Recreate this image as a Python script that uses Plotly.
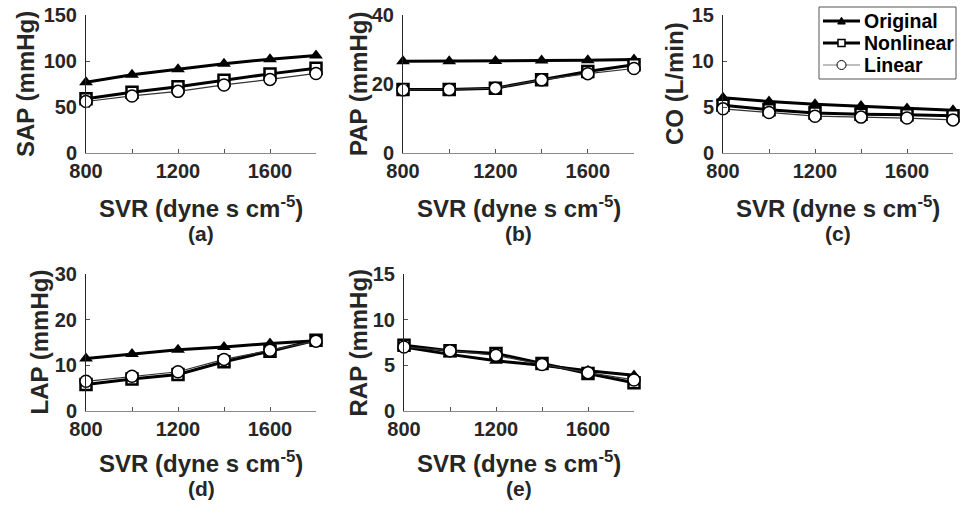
import plotly.graph_objects as go

# SVR values (x axis, dyne s cm^-5)
svr = [800, 1000, 1200, 1400, 1600, 1800]

# panel values: original / nonlinear / linear model
sap_orig = [77, 85, 91, 97, 102, 106]
sap_nonlin = [59, 66, 72, 79, 86, 92]
sap_lin = [56, 62, 67, 74, 80, 86.5]

pap_orig = [26.6, 26.6, 26.7, 26.8, 26.9, 27.1]
pap_nonlin = [18.4, 18.4, 18.8, 21.2, 23.6, 25.6]
pap_lin = [18.3, 18.4, 18.8, 21.2, 23.0, 24.5]

co_orig = [6.0, 5.6, 5.3, 5.1, 4.85, 4.65]
co_nonlin = [5.2, 4.7, 4.35, 4.2, 4.15, 4.05]
co_lin = [4.8, 4.4, 4.0, 3.9, 3.8, 3.6]

lap_orig = [11.5, 12.5, 13.4, 14.0, 14.8, 15.4]
lap_nonlin = [5.8, 7.0, 8.0, 10.8, 13.1, 15.5]
lap_lin = [6.5, 7.6, 8.6, 11.3, 13.3, 15.3]

rap_orig = [7.0, 6.2, 5.5, 5.0, 4.4, 3.9]
rap_nonlin = [7.2, 6.6, 6.3, 5.2, 4.1, 3.1]
rap_lin = [7.0, 6.6, 6.1, 5.1, 4.2, 3.4]

series_names = ["Original", "Nonlinear", "Linear"]

panels = [
    ("SAP (mmHg)", "(a)", 150, 50, sap_orig, sap_nonlin, sap_lin),
    ("PAP (mmHg)", "(b)", 40, 20, pap_orig, pap_nonlin, pap_lin),
    ("CO (L/min)", "(c)", 15, 5, co_orig, co_nonlin, co_lin),
    ("LAP (mmHg)", "(d)", 30, 10, lap_orig, lap_nonlin, lap_lin),
    ("RAP (mmHg)", "(e)", 15, 5, rap_orig, rap_nonlin, rap_lin),
]

W, H = 961, 508
FONT = "Liberation Sans"
TXT = "#262626"


def px(x):
    return x / W


def py(y):
    return 1 - y / H


# pixel boxes of each axes: left, right, top, bottom
boxes = [(86, 316, 15, 153), (403, 634, 15, 153), (723, 953, 15, 153),
         (86, 316, 274, 411), (404, 634, 274, 411)]
ytitle_x = [25, 358, 674, 39, 358]
xtitle_dy = [54, 54, 54, 51, 51]
tag_dy = [80, 80, 80, 77, 77]

fig = go.Figure()
layout = {}
annots = []
shapes = []

for i, (ylab, tag, ymax, dy, yo, yn, yl) in enumerate(panels):
    n = "" if i == 0 else str(i + 1)
    l, r, t, b = boxes[i]
    layout["xaxis" + n] = dict(
        domain=[px(l), px(r)], anchor="y" + n, range=[800, 1800],
        tickmode="linear", tick0=800, dtick=400,
        ticks="inside", ticklen=4, tickcolor="#555",
        minor=dict(ticks="inside", dtick=200, tick0=800, ticklen=4, tickcolor="#555"),
        showline=True, linecolor="#8a8a8a", linewidth=1,
        showgrid=False, zeroline=False, ticklabelstandoff=0,
        tickfont=dict(family=FONT, size=20, color=TXT, weight="bold"),
    )
    layout["yaxis" + n] = dict(
        domain=[py(b), py(t)], anchor="x" + n, range=[0, ymax],
        tickmode="linear", tick0=0, dtick=dy,
        ticks="inside", ticklen=4, tickcolor="#555",
        showline=True, linecolor="#262626", linewidth=1,
        showgrid=False, zeroline=False, ticklabelstandoff=4,
        tickfont=dict(family=FONT, size=20, color=TXT, weight="bold"),
    )
    xa, ya = "x" + n, "y" + n
    fig.add_trace(go.Scatter(
        x=svr, y=yo, xaxis=xa, yaxis=ya, mode="lines+markers", name=series_names[0],
        line=dict(color="black", width=3),
        marker=dict(symbol="triangle-up", size=12, color="black"),
        showlegend=False, cliponaxis=False))
    fig.add_trace(go.Scatter(
        x=svr, y=yn, xaxis=xa, yaxis=ya, mode="lines+markers", name=series_names[1],
        line=dict(color="black", width=3),
        marker=dict(symbol="square", size=11, color="white", line=dict(color="black", width=2.5)),
        showlegend=False, cliponaxis=False))
    fig.add_trace(go.Scatter(
        x=svr, y=yl, xaxis=xa, yaxis=ya, mode="lines+markers", name=series_names[2],
        line=dict(color="#333", width=1.2),
        marker=dict(symbol="circle", size=12, color="white", line=dict(color="black", width=1.5)),
        showlegend=False, cliponaxis=False))

    cx = (l + r) / 2
    annots.append(dict(x=px(ytitle_x[i]), y=py((t + b) / 2), xref="paper", yref="paper",
                       xanchor="center", yanchor="middle",
                       text=ylab, textangle=-90, showarrow=False,
                       font=dict(family=FONT, size=24, color=TXT, weight="bold")))
    annots.append(dict(x=px(cx), y=py(b + xtitle_dy[i]), xref="paper", yref="paper",
                       xanchor="center", yanchor="middle",
                       text="SVR (dyne s cm<sup>-5</sup>)", showarrow=False,
                       font=dict(family=FONT, size=24, color=TXT, weight="bold")))
    annots.append(dict(x=px(cx), y=py(b + tag_dy[i]), xref="paper", yref="paper",
                       xanchor="center", yanchor="middle",
                       text=tag, showarrow=False,
                       font=dict(family=FONT, size=21, color=TXT, weight="bold")))

# legend drawn by hand (plotly's entries are spaced too far apart)
shapes.append(dict(type="rect", xref="paper", yref="paper",
                   x0=px(819), x1=px(956), y0=py(79), y1=py(7),
                   line=dict(color="#555", width=1), fillcolor="white"))
rows = [21, 43, 65]
line_w = [3, 3, 1.2]
line_c = ["black", "black", "#808080"]
mx = 841.5
for k, yy in enumerate(rows):
    shapes.append(dict(type="line", xref="paper", yref="paper",
                       x0=px(823), x1=px(860), y0=py(yy), y1=py(yy),
                       line=dict(color=line_c[k], width=line_w[k])))
    annots.append(dict(x=px(862), y=py(yy), xref="paper", yref="paper",
                       xanchor="left", yanchor="middle", text=series_names[k],
                       showarrow=False,
                       font=dict(family=FONT, size=19.5, color="black", weight="bold")))
# symbols
s = 3.8
shapes.append(dict(type="path", xref="paper", yref="paper",
                   path=f"M {px(mx - s)},{py(rows[0] + s * 0.8)} L {px(mx + s)},{py(rows[0] + s * 0.8)} "
                        f"L {px(mx)},{py(rows[0] - s)} Z",
                   fillcolor="black", line=dict(color="black", width=1)))
shapes.append(dict(type="rect", xref="paper", yref="paper",
                   x0=px(mx - 3.5), x1=px(mx + 3.5), y0=py(rows[1] + 3.5), y1=py(rows[1] - 3.5),
                   fillcolor="white", line=dict(color="black", width=1.5)))
shapes.append(dict(type="circle", xref="paper", yref="paper",
                   x0=px(mx - 4.5), x1=px(mx + 4.5), y0=py(rows[2] + 4.5), y1=py(rows[2] - 4.5),
                   fillcolor="white", line=dict(color="black", width=1)))

fig.update_layout(
    **layout,
    annotations=annots,
    shapes=shapes,
    width=W, height=H,
    margin=dict(l=0, r=0, t=0, b=0, autoexpand=False),
    paper_bgcolor="white", plot_bgcolor="white",
    font=dict(family=FONT, color=TXT),
    showlegend=False,
)

# page body margin would shift the figure by 8px
fig.write_html("out.html", config={"displayModeBar": False},
               post_script="document.body.style.margin='0';")
